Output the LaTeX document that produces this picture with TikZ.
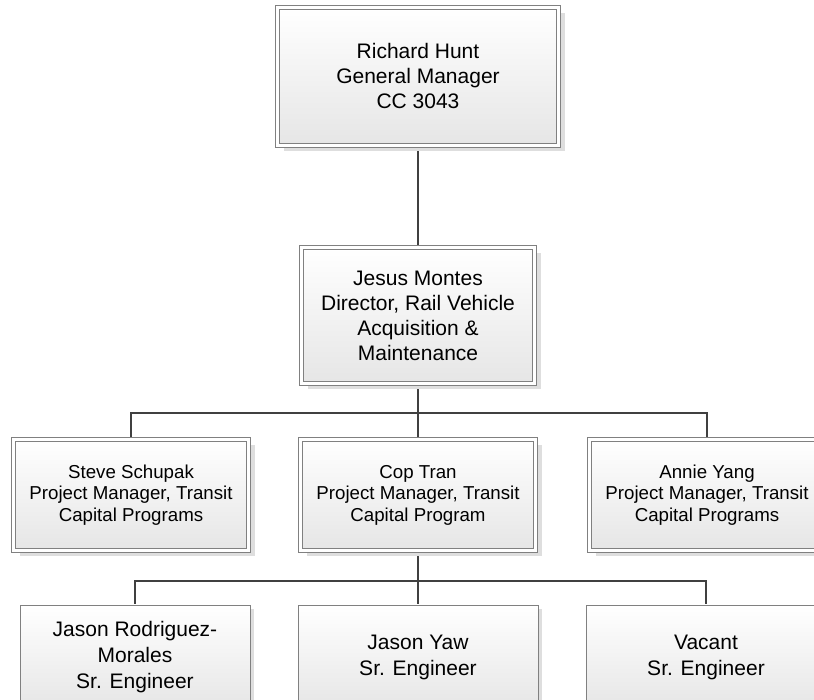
\documentclass[tikz,border=0pt]{standalone}
\usepackage{fontspec}
\setmainfont{Liberation Sans}
\usepackage{tikz}
\usetikzlibrary{positioning,shadows,backgrounds}
\tikzset{
  puesto/.style={rectangle, draw=black!50, line width=0.9pt,
                 double=white, double distance=2.8pt,
                 top color=white, bottom color=black!10,
                 align=center, inner sep=0pt, outer sep=0pt,
                 font=\fontsize{21}{25}\selectfont,
                 drop shadow={shadow xshift=6pt, shadow yshift=-6pt,
                              fill=black!13, opacity=1}},
  jefeproy/.style={puesto, minimum width=235pt, minimum height=111pt,
                   font=\fontsize{18.7}{21.5}\selectfont},
  ingeniero/.style={rectangle, draw=black!50, line width=0.9pt,
                    top color=white, bottom color=black!10,
                    minimum width=240pt, minimum height=105pt,
                    align=center, inner sep=0pt, outer sep=0pt,
                    font=\fontsize{21}{26}\selectfont,
                    drop shadow={shadow xshift=4pt, shadow yshift=-4pt,
                                 fill=black!13, opacity=1}},
  conector/.style={line width=2pt, draw=black!75}
}
\begin{document}
\begin{tikzpicture}[x=1pt, y=1pt]
  \useasboundingbox (0,0) rectangle (814,700);

  % Gerencia y direccion
  \node[puesto, minimum width=281pt, minimum height=138pt] (gm) at (418,623.5)
       {Richard Hunt\\General Manager\\CC 3043};
  \node[puesto, minimum width=233pt, minimum height=136pt, below=102pt of gm] (dir)
       {Jesus Montes\\Director, Rail Vehicle\\Acquisition \&\\Maintenance};

  % Jefes de proyecto
  \node[jefeproy, below=56pt of dir] (jp2) {Cop Tran\\Project Manager, Transit\\Capital Program};
  \node[jefeproy, left=52pt of jp2] (jp1) {Steve Schupak\\Project Manager, Transit\\Capital Programs};
  \node[jefeproy, right=54pt of jp2] (jp3) {Annie Yang\\Project Manager, Transit\\Capital Programs};

  % Ingenieros
  \node[ingeniero, below=54.5pt of jp2] (ing2) {Jason Yaw\\Sr. Engineer};
  \node[ingeniero, minimum width=230pt, left=48pt of ing2] (ing1) {Jason Rodriguez-\\Morales\\Sr. Engineer};
  \node[ingeniero, right=48pt of ing2] (ing3) {Vacant\\Sr. Engineer};

  \begin{scope}[on background layer]
    \draw[conector] (gm.south) -- (dir.north);
    \draw[conector] (dir.south) -- (jp2.north);
    \draw[conector] (dir.south) -- ++(0,-29.5) -| (jp1.north);
    \draw[conector] (dir.south) -- ++(0,-29.5) -| (jp3.north);
    \draw[conector] (jp2.south) -- (ing2.north);
    \draw[conector] (jp2.south) -- ++(0,-30.5) -| (ing1.north);
    \draw[conector] (jp2.south) -- ++(0,-30.5) -| (ing3.north);
  \end{scope}
\end{tikzpicture}
\end{document}
